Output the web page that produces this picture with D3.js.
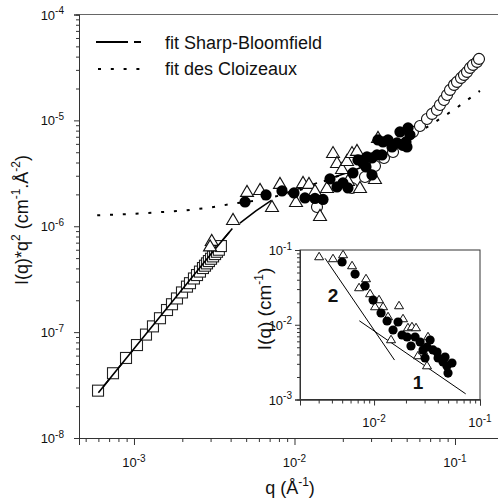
<!DOCTYPE html>
<html><head><meta charset="utf-8">
<script src="https://cdn.jsdelivr.net/npm/d3@7"></script>
<style>
body{margin:0;background:#fff}
svg{display:block}
text{font-family:"Liberation Sans",Arial,sans-serif;fill:#111}
</style>
</head><body>
<svg id="c" width="498" height="503"></svg>
<script>
// ---------- data (main plot: I(q)*q^2 vs q) ----------
const squareQ = [5.97e-4,7.40e-4,8.92e-4,1.044e-3,1.188e-3,1.313e-3,1.452e-3,1.606e-3,1.725e-3,1.853e-3,1.991e-3,2.139e-3,2.233e-3,2.364e-3,2.47e-3,2.577e-3,2.69e-3,2.77e-3,2.85e-3,2.93e-3,3.02e-3,3.11e-3,3.20e-3,3.29e-3,3.38e-3,3.48e-3];
const squareI = [2.80e-8,4.09e-8,5.70e-8,7.55e-8,9.48e-8,1.133e-7,1.353e-7,1.617e-7,1.834e-7,2.08e-7,2.37e-7,2.69e-7,2.90e-7,3.21e-7,3.46e-7,3.73e-7,4.03e-7,4.24e-7,4.46e-7,4.69e-7,4.93e-7,5.19e-7,5.46e-7,5.74e-7,6.0e-7,6.5e-7];

const filledQ = [4.92e-3,6.65e-3,8.36e-3,9.93e-3,1.162e-2,1.342e-2,1.505e-2,1.664e-2,1.840e-2,2.005e-2,2.154e-2,2.314e-2,2.486e-2,2.672e-2,2.829e-2,3.040e-2,3.040e-2,3.266e-2,3.509e-2,3.313e-2,3.559e-2,3.825e-2,4.05e-2,4.35e-2,4.54e-2,4.74e-2,4.95e-2,5.10e-2,5.24e-2,5.02e-2,2.789e-2];
const filledI = [1.697e-6,1.975e-6,2.156e-6,2.064e-6,1.851e-6,1.831e-6,1.791e-6,2.798e-6,2.351e-6,2.566e-6,2.300e-6,3.188e-6,4.23e-6,3.963e-6,4.515e-6,4.418e-6,3.052e-6,4.716e-6,4.716e-6,6.537e-6,6.258e-6,6.537e-6,5.61e-6,6.12e-6,7.78e-6,5.86e-6,6.258e-6,8.49e-6,7.29e-6,5.61e-6,3.633e-6];

const openQ = [1.381e-2,2.282e-2,2.749e-2,3.173e-2,3.610e-2,4.11e-2,4.74e-2,5.47e-2,6.05e-2,6.69e-2,7.19e-2,7.72e-2,8.06e-2,8.54e-2,8.92e-2,9.31e-2,9.86e-2,0.1029,0.1090,0.1138,0.1188,0.1240,0.1295,0.1371,0.1411];
const openI = [1.522e-6,2.300e-6,2.922e-6,3.712e-6,4.418e-6,5.03e-6,5.86e-6,7.78e-6,8.86e-6,1.032e-5,1.151e-5,1.255e-5,1.399e-5,1.560e-5,1.739e-5,1.940e-5,2.163e-5,2.308e-5,2.518e-5,2.688e-5,2.869e-5,3.130e-5,3.341e-5,3.566e-5,3.807e-5];

const triQ = [3.05e-3,2.98e-3,4.14e-3,5.06e-3,6.10e-3,7.24e-3,8.12e-3,1.022e-2,1.130e-2,1.231e-2,1.342e-2,1.442e-2,1.594e-2,1.738e-2,1.840e-2,1.977e-2,2.124e-2,2.282e-2,2.451e-2,2.154e-2,2.559e-2,3.173e-2,3.313e-2];
const triI = [7.43e-7,6.6e-7,1.172e-6,2.156e-6,2.251e-6,1.555e-6,2.566e-6,1.734e-6,2.622e-6,2.566e-6,2.203e-6,1.279e-6,2.351e-6,5.03e-6,4.05e-6,3.554e-6,4.23e-6,5.03e-6,5.26e-6,2.738e-6,2.351e-6,2.859e-6,6.98e-6];

// fits
const sbQ = [6.0e-4,1e-3,2e-3,3e-3,4.1e-3,4.57e-3,5.75e-3,7.24e-3,8.98e-3,1.40e-2,2.22e-2,3.4e-2];
const sbI = [2.68e-8,6.96e-8,2.54e-7,5.41e-7,9.5e-7,1.07e-6,1.40e-6,1.77e-6,2.08e-6,2.58e-6,3.28e-6,4.2e-6];
const dcQ = [5.9e-4,1e-3,2e-3,3e-3,4e-3,5e-3,6e-3,1e-2,2e-2,3e-2,5e-2,7e-2,0.1,0.143];
const dcI = [1.27e-6,1.31e-6,1.40e-6,1.50e-6,1.62e-6,1.70e-6,1.76e-6,2.1e-6,3.1e-6,4.2e-6,6.6e-6,9.0e-6,1.28e-5,1.9e-5];

// ---------- data (inset: I(q) vs q) ----------
const inTriQ = [3.03e-3,4.10e-3,5.10e-3,6.20e-3,8.40e-3,7.22e-3,9.17e-3,1.022e-2,1.114e-2,1.216e-2,1.355e-2,1.721e-2,1.877e-2,2.09e-2,2.28e-2,2.49e-2,1.446e-2,2.60e-2,2.90e-2,3.16e-2,3.23e-2];
const inTriI = [8.31e-2,7.82e-2,8.84e-2,6.30e-2,4.22e-2,3.20e-2,2.66e-2,1.781e-2,2.21e-2,1.781e-2,1.309e-2,1.837e-2,1.231e-2,9.33e-3,9.62e-3,9.33e-3,6.45e-3,3.94e-3,4.60e-3,2.89e-3,7.07e-3];
const inDotQ = [4.99e-3,6.62e-3,8.23e-3,9.79e-3,1.164e-2,1.327e-2,1.511e-2,1.684e-2,1.837e-2,2.05e-2,2.23e-2,2.44e-2,2.72e-2,2.90e-2,3.16e-2,3.38e-2,3.03e-2,3.60e-2,3.93e-2,4.02e-2,4.48e-2,4.88e-2,4.99e-2,5.44e-2,4.68e-2];
const inDotI = [6.91e-2,4.77e-2,3.30e-2,2.14e-2,1.437e-2,1.122e-2,8.51e-3,1.088e-2,7.29e-3,6.86e-3,5.20e-3,6.86e-3,5.88e-3,4.60e-3,5.04e-3,6.25e-3,3.59e-3,4.60e-3,4.32e-3,3.59e-3,3.18e-3,2.81e-3,2.26e-3,3.08e-3,3.70e-3];
const line1Q = [7.26e-3,7.33e-2], line1I = [1.13e-2,1.19e-3];
const line2Q = [3.45e-3,1.56e-2], line2I = [7.74e-2,3.37e-3];
const slopeLabels = ["1","2"];
const slopeLabelQ = [2.6e-2,4.1e-3], slopeLabelI = [1.4e-3,2.0e-2];

// ticks
const mainXTicks = [1e-3,1e-2,1e-1], mainXExp = ["-3","-2","-1"];
const mainYTicks = [1e-8,1e-7,1e-6,1e-5,1e-4], mainYExp = ["-8","-7","-6","-5","-4"];
const inXTicks = [1e-2,1e-1], inXExp = ["-2","-1"];
const inYTicks = [1e-3,1e-2,1e-1], inYExp = ["-3","-2","-1"];
const legendLabels = ["fit Sharp-Bloomfield","fit des Cloizeaux"];

// ---------- drawing ----------
const svg = d3.select("#c");
const AX = "#333";
const x = d3.scaleLog().domain([4.544e-4, 0.2933]).range([79, 530]);
const y = d3.scaleLog().domain([1e-8, 1e-4]).range([438, 14.5]);
const xi = d3.scaleLog().domain([2e-3, 0.1]).range([300, 480]);
const yi = d3.scaleLog().domain([1e-3, 0.1]).range([399.5, 250]);

const isMajor = v => Math.abs(Math.log10(v) - Math.round(Math.log10(v))) < 1e-6;
function inDom(s){const d=s.domain();return v=>v>=d[0]*0.999&&v<=d[1]*1.001;}

function logAxis(g, axisFn, scale, majLen, minLen){
  const all = scale.ticks().filter(inDom(scale));
  const minors = all.filter(v=>!isMajor(v));
  const majors = all.filter(isMajor);
  g.append("g").call(axisFn(scale).tickValues(minors).tickSize(minLen).tickFormat(""));
  g.append("g").call(axisFn(scale).tickValues(majors).tickSize(majLen).tickFormat(""));
  g.selectAll("path.domain").attr("stroke", AX);
  g.selectAll(".tick line").attr("stroke", AX);
}

function supText(sel, parts, fs, sfs){
  parts.forEach(p=>{
    if(p[1]) sel.append("tspan").attr("font-size",sfs).attr("dy",-fs*0.42).text(p[0]);
    else {const t=sel.append("tspan").attr("font-size",fs).text(p[0]); if(p[2]) t.attr("dy",fs*0.42);}
  });
}

// top border line
svg.append("line").attr("x1",79).attr("x2",498).attr("y1",y(1e-4)).attr("y2",y(1e-4)).attr("stroke","#666").attr("stroke-width",1);

// main axes
const gx = svg.append("g").attr("transform",`translate(0,${y(1e-8)})`);
logAxis(gx, d3.axisBottom, x, 7, 4);
const gy = svg.append("g").attr("transform",`translate(${x.range()[0]},0)`);
logAxis(gy, d3.axisLeft, y, 5, 3);
svg.selectAll("path.domain").attr("stroke-width",1);

// main tick labels
mainXTicks.forEach((v,i)=>{
  const t = svg.append("text").attr("x",x(v)).attr("y",467).attr("text-anchor","middle");
  supText(t, [["10"],[mainXExp[i],true]], 13, 10);
});
mainYTicks.forEach((v,i)=>{
  const t = svg.append("text").attr("x",64).attr("y",y(v)+5).attr("text-anchor","end");
  supText(t, [["10"],[mainYExp[i],true]], 13, 10);
});

// axis titles
{
  const t = svg.append("text").attr("x",290).attr("y",494).attr("text-anchor","middle");
  supText(t, [["q (Å"],["-1",true],[")",false,true]], 18, 12);
  const ty = svg.append("text").attr("text-anchor","middle").attr("transform","translate(28,220) rotate(-90)");
  supText(ty, [["I(q)*q"],["2",true],["  (cm",false,true],["-1",true],[".Å",false,true],["-2",true],[")",false,true]], 18, 12);
}

// fits
const lineGen = d3.line().x(d=>x(d[0])).y(d=>y(d[1]));
svg.append("path").datum(dcQ.map((q,i)=>[q,dcI[i]])).attr("d",lineGen)
  .attr("fill","none").attr("stroke","#000").attr("stroke-width",2).attr("stroke-dasharray","3,9.8");
svg.append("path").datum(sbQ.map((q,i)=>[q,sbI[i]])).attr("d",lineGen)
  .attr("fill","none").attr("stroke","#000").attr("stroke-width",1.6).attr("stroke-dasharray","207,14,39,16,33,17,33,17,33,17,33,17");

// markers
const tri = (cx,cy,w,h)=>`M${cx-w/2},${cy+h/2}L${cx},${cy-h/2}L${cx+w/2},${cy+h/2}Z`;
svg.append("g").selectAll("rect").data(squareQ.map((q,i)=>[q,squareI[i]])).join("rect")
  .attr("x",d=>x(d[0])-5.5).attr("y",d=>y(d[1])-5.5).attr("width",11).attr("height",11)
  .attr("fill","#fff").attr("stroke","#222").attr("stroke-width",1.1);
// fit line visible over the squares
svg.append("path").datum(sbQ.slice(0,5).map((q,i)=>[q,sbI[i]])).attr("d",lineGen)
  .attr("fill","none").attr("stroke","#000").attr("stroke-width",1.6);
svg.append("g").selectAll("circle").data(openQ.map((q,i)=>[q,openI[i]])).join("circle")
  .attr("cx",d=>x(d[0])).attr("cy",d=>y(d[1])).attr("r",5.5)
  .attr("fill","#fff").attr("stroke","#111").attr("stroke-width",1.1);
svg.append("g").selectAll("path").data(triQ.map((q,i)=>[q,triI[i]])).join("path")
  .attr("d",d=>tri(x(d[0]),y(d[1]),13,11))
  .attr("fill","#fff").attr("stroke","#111").attr("stroke-width",1.1);
svg.append("g").selectAll("circle").data(filledQ.map((q,i)=>[q,filledI[i]])).join("circle")
  .attr("cx",d=>x(d[0])).attr("cy",d=>y(d[1])).attr("r",5.6).attr("fill","#000");

// legend
svg.append("line").attr("x1",96).attr("x2",141).attr("y1",42).attr("y2",42)
  .attr("stroke","#000").attr("stroke-width",1.8).attr("stroke-dasharray","32,6,7,50");
svg.append("line").attr("x1",98).attr("x2",141).attr("y1",69).attr("y2",69)
  .attr("stroke","#000").attr("stroke-width",2).attr("stroke-dasharray","3,9.8");
legendLabels.forEach((s,i)=>{
  svg.append("text").attr("x",165).attr("y",[49,75][i]).attr("font-size",18).text(s);
});

// ---------- inset ----------
const ins = svg.append("g");
ins.append("rect").attr("x",300).attr("y",250).attr("width",180).attr("height",149.5).attr("fill","#fff").attr("stroke","#333").attr("stroke-width",1);
const gxi = ins.append("g").attr("transform",`translate(0,${yi.range()[0]})`);
logAxis(gxi, d3.axisBottom, xi, 6, 4);
const gyi = ins.append("g").attr("transform",`translate(${xi.range()[0]},0)`);
logAxis(gyi, d3.axisLeft, yi, 5, 3);
inXTicks.forEach((v,i)=>{
  const t = ins.append("text").attr("x",xi(v)).attr("y",427).attr("text-anchor","middle");
  supText(t, [["10"],[inXExp[i],true]], 13, 10);
});
inYTicks.forEach((v,i)=>{
  const t = ins.append("text").attr("x",292).attr("y",yi(v)+5).attr("text-anchor","end");
  supText(t, [["10"],[inYExp[i],true]], 13, 10);
});
{
  const t = ins.append("text").attr("text-anchor","middle").attr("transform","translate(271,309) rotate(-90)");
  supText(t, [["I(q) (cm"],["-1",true],[")",false,true]], 19, 12);
}
const lgi = d3.line().x(d=>xi(d[0])).y(d=>yi(d[1]));
[[line1Q,line1I],[line2Q,line2I]].forEach(([qs,is])=>{
  ins.append("path").datum(qs.map((q,i)=>[q,is[i]])).attr("d",lgi).attr("fill","none").attr("stroke","#000").attr("stroke-width",1);
});
slopeLabels.forEach((s,i)=>{
  ins.append("text").attr("x",xi(slopeLabelQ[i])).attr("y",yi(slopeLabelI[i])).attr("text-anchor","middle")
    .attr("font-size",19).attr("font-weight","bold").text(s);
});
ins.append("g").selectAll("path").data(inTriQ.map((q,i)=>[q,inTriI[i]])).join("path")
  .attr("d",d=>tri(xi(d[0]),yi(d[1]),9,7.5))
  .attr("fill","#fff").attr("stroke","#111").attr("stroke-width",1);
ins.append("g").selectAll("circle").data(inDotQ.map((q,i)=>[q,inDotI[i]])).join("circle")
  .attr("cx",d=>xi(d[0])).attr("cy",d=>yi(d[1])).attr("r",4.6).attr("fill","#000");
</script>
</body></html>
